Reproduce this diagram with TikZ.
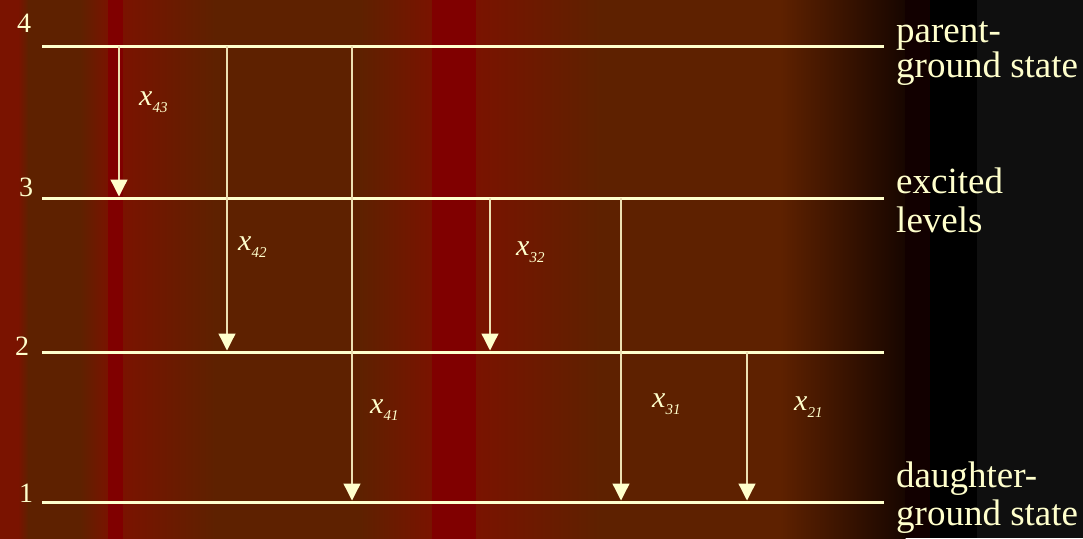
\documentclass[tikz,border=0pt]{standalone}
\usepackage{fontspec}
\setmainfont{Liberation Serif}
\usetikzlibrary{arrows.meta}
\definecolor{bgbrown}{HTML}{5E2100}
\definecolor{bgred}{HTML}{7A1300}
\definecolor{bgmaroon}{HTML}{800000}
\definecolor{bgdark}{HTML}{170600}
\definecolor{bgnight}{HTML}{120000}
\definecolor{bggrey}{HTML}{0F0F0F}
\definecolor{cream}{HTML}{FFFFCC}
\definecolor{arrowcol}{HTML}{EDE0B2}
\begin{document}
\begin{tikzpicture}[x=1pt, y=-1pt,
    level/.style={cream, line width=3pt},
    trans/.style={arrowcol, line width=1.3pt, shorten >=1.5pt,
      -{Triangle[length=17pt, width=17pt, color=cream]}},
    digit/.style={anchor=base west, inner sep=0pt, text=cream,
      font=\fontsize{28}{28}\selectfont},
    rate/.style={anchor=base west, inner sep=0pt, text=cream,
      font=\fontsize{30}{30}\selectfont\itshape},
    statelbl/.style={anchor=base west, inner sep=0pt, text=cream, align=left,
      font=\fontsize{37}{#1}\selectfont}]
  \useasboundingbox (0,0) rectangle (1083,538);
  % 背景条纹
  \foreach \a/\b/\ca/\cb in {0/18/bgred/bgred, 18/28/bgred/bgbrown,
      28/80/bgbrown/bgbrown, 80/108/bgbrown/bgred, 108/123/bgmaroon/bgmaroon,
      123/215/bgred/bgbrown, 215/360/bgbrown/bgbrown, 360/432/bgbrown/bgred,
      432/476/bgmaroon/bgmaroon, 476/600/bgred/bgbrown,
      600/780/bgbrown/bgbrown, 780/905/bgbrown/bgdark}
    \shade[left color=\ca, right color=\cb] (\a,0) rectangle (\b+0.6,538);
  \fill[bgnight] (905,0) rectangle (930.6,538);
  \fill[black] (930,0) rectangle (977.6,538);
  \fill[bggrey] (977,0) rectangle (1083,538);
  % 能级
  \foreach \i/\y in {1/502, 2/352, 3/198, 4/46} {
    \coordinate (lvW\i) at (42,\y);
    \coordinate (lvE\i) at (884,\y);
    \draw[level] (lvW\i) -- (lvE\i);
  }
  % 能级编号
  \node[digit] (n4) at (17,32) {4};
  \node[digit] (n3) at (19,196) {3};
  \node[digit] (n2) at (15,355) {2};
  \node[digit] (n1) at (19,502) {1};
  % 跃迁箭头
  \foreach \x/\a/\b in {119/4/3, 227/4/2, 352/4/1, 490/3/2, 621/3/1, 747/2/1}
    \draw[trans] (\x,0 |- lvW\a) -- (\x,0 |- lvW\b);
  % 跃迁标注
  \foreach \n/\x/\y in {43/139/105, 42/238/250, 41/370/413,
      32/516/255, 31/652/407, 21/794/410}
    \node[rate] (r\n) at (\x,\y)
      {x\raisebox{-7pt}{\fontsize{15}{15}\selectfont\n}};
  % 右侧说明
  \node[statelbl=32] (parent) at (896,77) {parent-\\ground state};
  \node[statelbl=39] (excited) at (896,232) {excited\\levels};
  \node[statelbl=38] (daughter) at (896,525) {daughter-\\ground state};
\end{tikzpicture}
\end{document}
